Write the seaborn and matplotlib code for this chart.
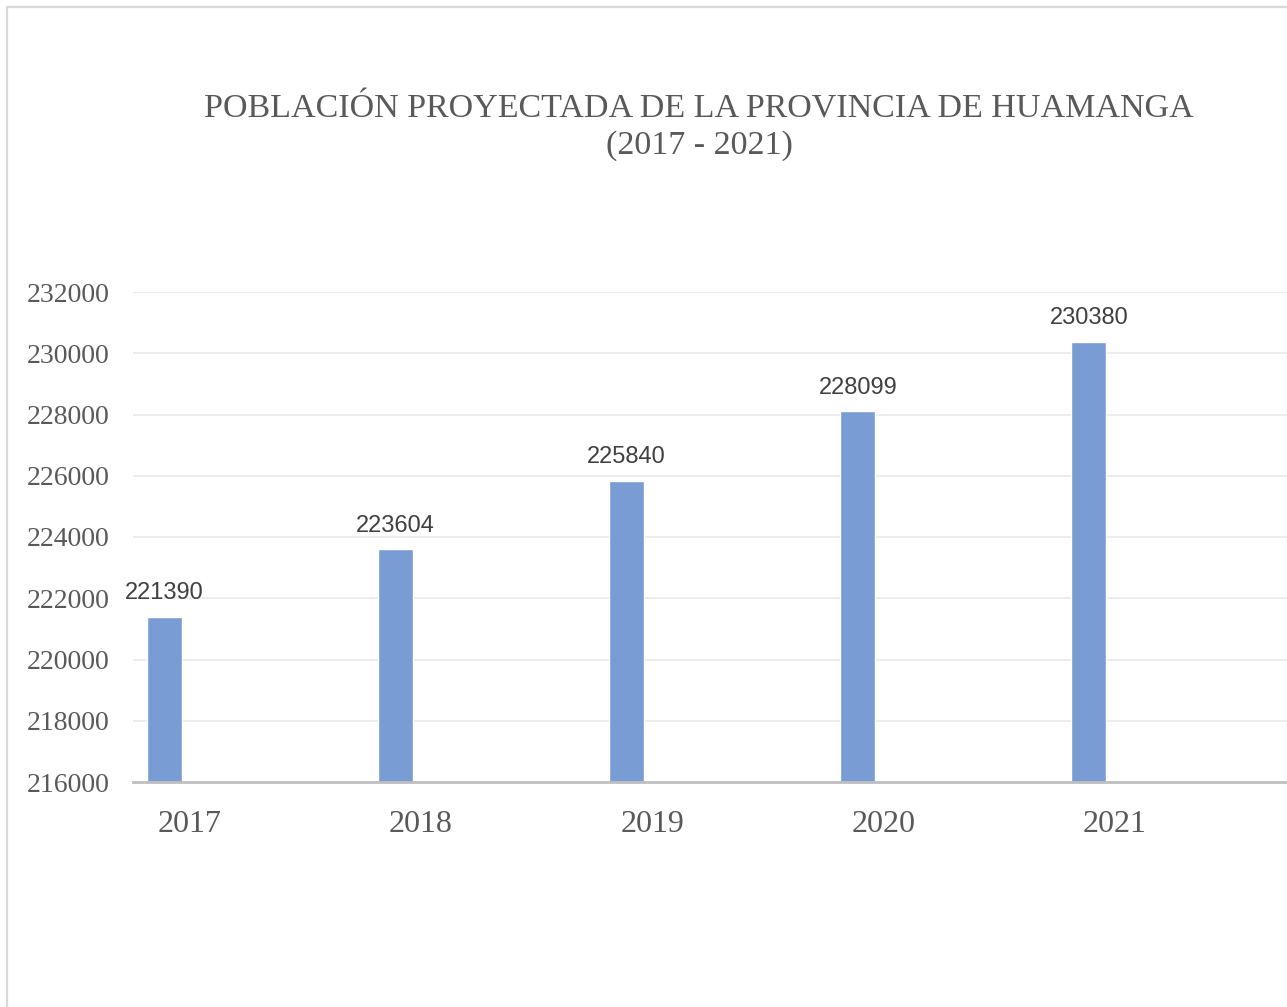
import numpy as np
import pandas as pd
import matplotlib.pyplot as plt
import seaborn as sb
from matplotlib.lines import Line2D

years = ["2017", "2018", "2019", "2020", "2021"]
population = [221390, 223604, 225840, 228099, 230380]
yticks = [216000, 218000, 220000, 222000, 224000, 226000, 228000, 230000, 232000]

df = pd.DataFrame({"year": years, "pop": population})

sb.set_style("white")
plt.rcParams["font.family"] = ["Liberation Serif", "DejaVu Serif"]

fig = plt.figure(figsize=(12.87, 10.07), dpi=100)
ax = fig.add_axes([133 / 1287, 1 - 782 / 1007, 1 - 133 / 1287, (782 - 292) / 1007])

sb.barplot(data=df, x="year", y="pop", color="#7A9CD5", width=0.152, ax=ax,
           saturation=1, zorder=3)

ax.set_ylim(216000, 232000)
ax.set_xlim(-0.136, 4.857)
ax.set_yticks(yticks)
ax.set_yticklabels([str(v) for v in yticks], fontsize=20, color="#595959")
ax.set_xticks(np.arange(len(years)) + 0.11)
ax.set_xticklabels(years, fontsize=23, color="#595959")
ax.tick_params(axis="y", length=0, pad=17)
ax.tick_params(axis="x", length=0, pad=20)
ax.set_xlabel("")
ax.set_ylabel("")

ax.grid(axis="y", color="#EBEBEB", lw=1.3, zorder=0)
for s in ["left", "right", "top"]:
    ax.spines[s].set_visible(False)
ax.spines["bottom"].set_color("#BFBFBF")
ax.spines["bottom"].set_linewidth(2)
ax.spines["bottom"].set_zorder(4)

for i, v in enumerate(population):
    ax.annotate(str(v), (i, v), xytext=(0, 9), textcoords="offset points",
                ha="center", va="bottom", fontsize=17, color="#404040",
                family=["Liberation Sans", "DejaVu Sans"])

fig.text(699 / 1287, 1 - 127.5 / 1007,
         "POBLACIÓN PROYECTADA DE LA PROVINCIA DE HUAMANGA\n(2017 - 2021)",
         ha="center", va="center", fontsize=24.5, color="#595959", linespacing=1.25)

# chart border (only left and top visible in the crop)
fig.add_artist(Line2D([7 / 1287, 7 / 1287], [0, 1 - 7 / 1007], transform=fig.transFigure,
                      color="#D9D9D9", lw=1.6))
fig.add_artist(Line2D([7 / 1287, 1], [1 - 7 / 1007, 1 - 7 / 1007], transform=fig.transFigure,
                      color="#D9D9D9", lw=1.6))

fig.savefig("out.png", dpi=100, facecolor="white")
